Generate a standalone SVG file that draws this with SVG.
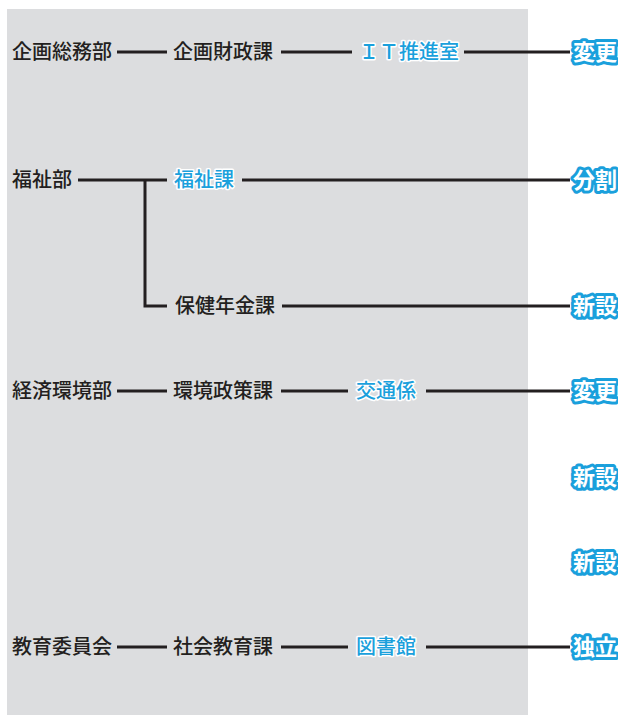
<svg xmlns="http://www.w3.org/2000/svg" width="618" height="715" viewBox="0 0 618 715">
<style>
.t{font-family:"Noto Sans CJK JP","Noto Sans",sans-serif;font-size:20px;font-weight:500;fill:#231f20}
.b{font-family:"Noto Sans CJK JP","Noto Sans",sans-serif;font-size:20px;font-weight:500;fill:#1aa0dc;stroke:#fff;stroke-width:3;paint-order:stroke;stroke-linejoin:round}
.c{font-family:"Noto Sans CJK JP","Noto Sans",sans-serif;font-size:22px;font-weight:bold;fill:#fff;stroke:#1aa0dc;stroke-width:6;paint-order:stroke;stroke-linejoin:round}
.ln{stroke:#231f20;stroke-width:3;fill:none}
</style>
<rect x="7" y="9" width="521" height="706" fill="#dcdddf"/>
<g id="connectors" class="ln">
<line x1="117" y1="52" x2="167" y2="52"/>
<line x1="281" y1="52" x2="352" y2="52"/>
<line x1="464" y1="52" x2="570" y2="52"/>
<line x1="78" y1="180" x2="167" y2="180"/>
<polyline points="145,180 145,306 167,306"/>
<line x1="242" y1="180" x2="570" y2="180"/>
<line x1="282" y1="306" x2="570" y2="306"/>
<line x1="117" y1="391" x2="167" y2="391"/>
<line x1="281" y1="391" x2="348" y2="391"/>
<line x1="426" y1="391" x2="570" y2="391"/>
<line x1="117" y1="647" x2="167" y2="647"/>
<line x1="281" y1="647" x2="348" y2="647"/>
<line x1="426" y1="647" x2="570" y2="647"/>
</g>
<g id="n-kikakusomu"><text class="t" x="12" y="59">企画総務部</text></g>
<g id="n-kikakuzaisei"><text class="t" x="173" y="59">企画財政課</text></g>
<g id="n-it"><text class="b" x="359" y="59">ＩＴ推進室</text></g>
<g id="s1"><text class="c" x="573" y="60">変更</text></g>
<g id="n-fukushibu"><text class="t" x="12" y="187">福祉部</text></g>
<g id="n-fukushika"><text class="b" x="174" y="187">福祉課</text></g>
<g id="s2"><text class="c" x="573" y="188">分割</text></g>
<g id="n-hoken"><text class="t" x="175" y="313">保健年金課</text></g>
<g id="s3"><text class="c" x="573" y="314">新設</text></g>
<g id="n-keizai"><text class="t" x="12" y="398">経済環境部</text></g>
<g id="n-kankyo"><text class="t" x="173" y="398">環境政策課</text></g>
<g id="n-kotsu"><text class="b" x="356" y="398">交通係</text></g>
<g id="s4"><text class="c" x="573" y="399">変更</text></g>
<g id="s5"><text class="c" x="573" y="485">新設</text></g>
<g id="s6"><text class="c" x="573" y="570">新設</text></g>
<g id="n-kyoiku"><text class="t" x="12" y="654">教育委員会</text></g>
<g id="n-shakai"><text class="t" x="173" y="654">社会教育課</text></g>
<g id="n-tosho"><text class="b" x="356" y="654">図書館</text></g>
<g id="s7"><text class="c" x="573" y="655">独立</text></g>
</svg>
